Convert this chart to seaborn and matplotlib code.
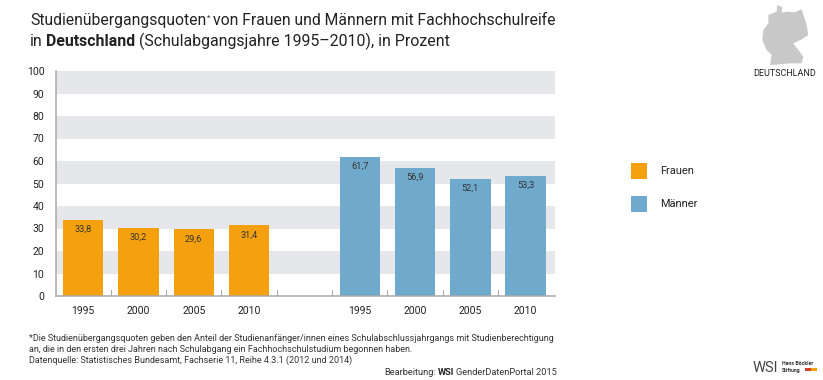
import pandas as pd
import matplotlib
matplotlib.use("Agg")
import matplotlib.pyplot as plt
from matplotlib.patches import Polygon, Rectangle
import seaborn as sns

sns.set_theme(style="white")
plt.rcParams["font.family"] = ["Roboto", "DejaVu Sans"]

# data
slots = ["f95", "f00", "f05", "f10", "leer", "m95", "m00", "m05", "m10"]
tick_labels = ["1995", "2000", "2005", "2010", "", "1995", "2000", "2005", "2010"]
gruppen = ["Frauen", "Frauen", "Frauen", "Frauen", "Frauen", "Männer", "Männer", "Männer", "Männer"]
werte = [33.8, 30.2, 29.6, 31.4, None, 61.7, 56.9, 52.1, 53.3]
y_ticks = [0, 10, 20, 30, 40, 50, 60, 70, 80, 90, 100]
farben = {"Frauen": "#f5a10f", "Männer": "#6fa9cb"}

W, H = 823, 380
df = pd.DataFrame({"slot": slots, "wert": werte, "gruppe": gruppen})

fig = plt.figure(figsize=(W / 100, H / 100), dpi=100)
ax = fig.add_axes([55.5 / W, 1 - 296 / H, (555 - 55.5) / W, (296 - 71) / H])

# grey bands behind the bars
for low in range(10, 100, 20):
    ax.axhspan(low, low + 10, color="#e6e7eb", lw=0, zorder=0)

sns.barplot(data=df, x="slot", y="wert", hue="gruppe", order=slots, palette=farben,
            dodge=False, width=0.73, legend=False, zorder=2, saturation=1, linewidth=0, ax=ax)

for c in ax.containers:
    ax.bar_label(c, fmt=lambda v: f"{v:.1f}".replace(".", ","), padding=-10,
                 fontsize=6.6, color="#333333")

ax.set_xlim(-0.5, 8.53)
ax.set_ylim(0, 100)
ax.set_xlabel("")
ax.set_ylabel("")
ax.set_yticks(y_ticks)
ax.set_xticks(range(len(slots)))
ax.set_xticklabels(tick_labels)
ax.tick_params(axis="x", length=0, pad=7, labelsize=7.5, labelcolor="#222222")
ax.tick_params(axis="y", length=0, pad=8, labelsize=7.5, labelcolor="#222222")

# small ticks between the slots
for i in range(1, len(slots)):
    ax.plot([i - 0.5, i - 0.5], [0, 2.7], color="#a8a8a8", lw=0.8, zorder=1)

for s in ["top", "right"]:
    ax.spines[s].set_visible(False)
for s in ["left", "bottom"]:
    ax.spines[s].set_color("#a8a8a8")
    ax.spines[s].set_linewidth(1.1)


def px_text(x, y, s, **kw):
    return fig.text(x / W, 1 - y / H, s, **kw)


def text_run(x, y, parts, size, color):
    # parts: (string, weight, fontsize factor, raise in px, gap after in px)
    for s, weight, factor, lift, gap in parts:
        t = px_text(x, y - lift, s, fontsize=size * factor, color=color, fontweight=weight)
        fig.canvas.draw()
        x += t.get_window_extent().width + gap


# title
text_run(30, 25, [("Studienübergangsquoten", "normal", 1, 0, 0.5),
                  ("*", "normal", 0.5, 5, 3),
                  ("von Frauen und Männern mit Fachhochschulreife", "normal", 1, 0, 0)],
         11.35, "#222222")
text_run(30, 46, [("in", "normal", 1, 0, 3.5),
                  ("Deutschland", "bold", 1, 0, 3.5),
                  ("(Schulabgangsjahre 1995–2010), in Prozent", "normal", 1, 0, 0)],
         11.45, "#222222")

# legend
for y, name in [(163, "Frauen"), (196, "Männer")]:
    fig.add_artist(Rectangle((631 / W, 1 - (y + 16) / H), 16 / W, 16 / H,
                             transform=fig.transFigure, color=farben[name], lw=0))
    px_text(660, y + 8, name, fontsize=7.9, color="#222222", va="center")

# footnotes
note = "#333333"
px_text(29, 341, "*Die Studienübergangsquoten geben den Anteil der Studienanfänger/innen eines "
        "Schulabschlussjahrgangs mit Studienberechtigung", fontsize=6.5, color=note)
px_text(29, 352, "an, die in den ersten drei Jahren nach Schulabgang ein Fachhochschulstudium "
        "begonnen haben.", fontsize=6.5, color=note)
px_text(29, 363, "Datenquelle: Statistisches Bundesamt, Fachserie 11, Reihe 4.3.1 (2012 und 2014)",
        fontsize=6.5, color=note)
t = px_text(557, 375, "GenderDatenPortal 2015", fontsize=6.7, color=note, ha="right")
fig.canvas.draw()
x = 557 - t.get_window_extent().width - 2
t = px_text(x, 375, "WSI", fontsize=6.7, color="#222222", ha="right", fontweight="bold")
fig.canvas.draw()
x -= t.get_window_extent().width + 2
px_text(x, 375, "Bearbeitung:", fontsize=6.7, color=note, ha="right")

# Germany shape
umriss = [(232, 15), (247, 22), (245, 38), (262, 35), (285, 37), (305, 28), (312, 50), (320, 75),
          (325, 105), (305, 118), (280, 130), (295, 150), (310, 170), (305, 190), (270, 190),
          (240, 193), (210, 195), (215, 165), (200, 150), (187, 120), (190, 90), (205, 70),
          (205, 45), (230, 35)]
fig.add_artist(Polygon([((700 + a / 3) / W, 1 - (b / 3) / H) for a, b in umriss],
                       transform=fig.transFigure, color="#c8c8c8", lw=0))
px_text(785, 73, "DEUTSCHLAND", fontsize=6.5, color="#222222", ha="center", va="center")

# logo
px_text(753, 372, "WSI", fontsize=10.5, color="#444444")
px_text(782, 365, "Hans Böckler", fontsize=3.8, color="#333333", fontweight="bold")
px_text(782, 372, "Stiftung", fontsize=3.8, color="#333333", fontweight="bold")
fig.add_artist(Rectangle((805 / W, 1 - 371 / H), 6 / W, 3 / H, transform=fig.transFigure,
                         color="#d6402a", lw=0))
fig.add_artist(Rectangle((811 / W, 1 - 371 / H), 6 / W, 3 / H, transform=fig.transFigure,
                         color="#f5a10f", lw=0))

fig.savefig("out.png", dpi=100)
